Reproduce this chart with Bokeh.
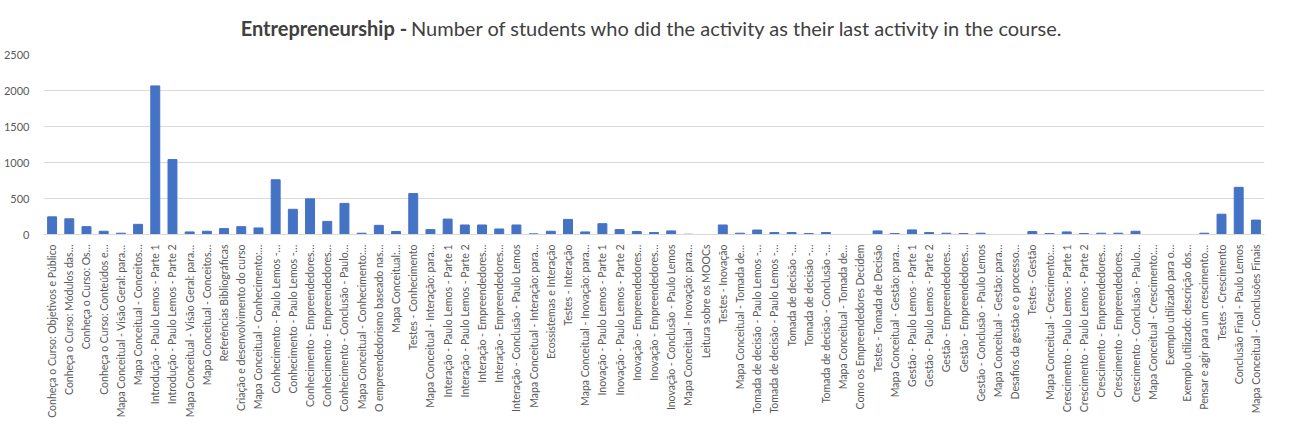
import math
from bokeh.plotting import figure
from bokeh.layouts import column
from bokeh.models import Range1d, FixedTicker, ColumnDataSource
from bokeh.core.properties import value
from bokeh.embed import file_html
from bokeh.resources import INLINE

activities = [
    "Conheça o Curso: Objetivos e Público",
    "Conheça o Curso: Módulos das…",
    "Conheça o Curso: Os…",
    "Conheça o Curso: Conteúdos e…",
    "Mapa Conceitual - Visão Geral: para…",
    "Mapa Conceitual - Conceitos…",
    "Introdução - Paulo Lemos - Parte 1",
    "Introdução - Paulo Lemos - Parte 2",
    "Mapa Conceitual - Visão Geral: para…",
    "Mapa Conceitual - Conceitos…",
    "Referências Bibliográficas",
    "Criação e desenvolvimento do curso",
    "Mapa Conceitual - Conhecimento:…",
    "Conhecimento - Paulo Lemos -…",
    "Conhecimento - Paulo Lemos -…",
    "Conhecimento - Empreendedores…",
    "Conhecimento - Empreendedores…",
    "Conhecimento - Conclusão - Paulo…",
    "Mapa Conceitual - Conhecimento:…",
    "O empreendedorismo baseado nas…",
    "Mapa Conceitual:…",
    "Testes - Conhecimento",
    "Mapa Conceitual - Interação: para…",
    "Interação - Paulo Lemos - Parte 1",
    "Interação - Paulo Lemos - Parte 2",
    "Interação - Empreendedores…",
    "Interação - Empreendedores…",
    "Interação - Conclusão - Paulo Lemos",
    "Mapa Conceitual - Interação: para…",
    "Ecossistemas e Interação",
    "Testes - Interação",
    "Mapa Conceitual - Inovação: para…",
    "Inovação - Paulo Lemos - Parte 1",
    "Inovação - Paulo Lemos - Parte 2",
    "Inovação - Empreendedores…",
    "Inovação - Empreendedores…",
    "Inovação - Conclusão - Paulo Lemos",
    "Mapa Conceitual - Inovação: para…",
    "Leitura sobre os MOOCs",
    "Testes - Inovação",
    "Mapa Conceitual - Tomada de…",
    "Tomada de decisão - Paulo Lemos -…",
    "Tomada de decisão - Paulo Lemos -…",
    "Tomada de decisão -…",
    "Tomada de decisão -…",
    "Tomada de decisão - Conclusão -…",
    "Mapa Conceitual - Tomada de…",
    "Como os Empreendedores Decidem",
    "Testes - Tomada de Decisão",
    "Mapa Conceitual - Gestão: para…",
    "Gestão - Paulo Lemos - Parte 1",
    "Gestão - Paulo Lemos - Parte 2",
    "Gestão - Empreendedores…",
    "Gestão - Empreendedores…",
    "Gestão - Conclusão - Paulo Lemos",
    "Mapa Conceitual - Gestão: para…",
    "Desafios da gestão e o processo…",
    "Testes - Gestão",
    "Mapa Conceitual - Crescimento:…",
    "Crescimento - Paulo Lemos - Parte 1",
    "Crescimento - Paulo Lemos - Parte 2",
    "Crescimento - Empreendedores…",
    "Crescimento - Empreendedores…",
    "Crescimento - Conclusão - Paulo…",
    "Mapa Conceitual - Crescimento:…",
    "Exemplo utilizado para o…",
    "Exemplo utilizado: descrição dos…",
    "Pensar e agir para um crescimento…",
    "Testes - Crescimento",
    "Conclusão Final - Paulo Lemos",
    "Mapa Conceitual - Conclusões Finais",
]

students = [
    245, 218, 109, 45, 18, 141, 2064, 1041, 36, 45,
    82, 109, 91, 760, 350, 495, 182, 432, 18, 127,
    41, 568, 68, 214, 132, 132, 77, 132, 9, 45,
    209, 36, 150, 68, 41, 27, 50, 3, 0, 132,
    18, 62, 27, 27, 14, 27, 0, 0, 50, 14,
    64, 27, 18, 14, 18, 0, 0, 41, 14, 36,
    14, 18, 18, 45, 0, 0, 0, 18, 282, 655,
    200,
]

y_ticks = [0, 500, 1000, 1500, 2000, 2500]

title_bold = "Entrepreneurship -"
title_rest = "Number of students who did the activity as their last activity in the course."

W = 1276
TOP_H = 44

# ---- title strip ----
t = figure(width=W, height=TOP_H, output_backend="svg", toolbar_location=None,
           x_range=Range1d(0, W), y_range=Range1d(0, TOP_H),
           x_axis_type=None, y_axis_type=None,
           min_border=0, min_border_left=0, min_border_right=0,
           min_border_top=0, min_border_bottom=0)
t.grid.visible = False
t.outline_line_color = None
t.background_fill_color = "white"
t.border_fill_color = "white"
t.text(x=[380], y=[TOP_H - 27], text=[title_bold], text_font=value("Lato"),
       text_font_style="bold", text_font_size="20px", text_color="#404040",
       text_align="right", text_baseline="middle")
t.text(x=[384], y=[TOP_H - 27], text=[title_rest], text_font=value("Lato"),
       text_font_size="20px", text_color="#404040",
       text_align="left", text_baseline="middle")

# ---- main chart ----
n = len(activities)
xs = list(range(n))
src = ColumnDataSource(dict(x=xs, top=students))

p = figure(width=W, height=420 - TOP_H, output_backend="svg", toolbar_location=None,
           x_range=Range1d(-0.5, n - 0.5), y_range=Range1d(0, 2500),
           min_border_left=35, min_border_right=12, min_border_top=10,
           min_border_bottom=183)
p.background_fill_color = "white"
p.border_fill_color = "white"
p.outline_line_color = None

p.vbar(x="x", top="top", width=0.52, color="#4472C4", source=src)

p.xaxis.ticker = FixedTicker(ticks=xs)
p.xaxis.major_label_overrides = {i: lab for i, lab in enumerate(activities)}
p.xaxis.major_label_orientation = math.pi / 2
p.xaxis.major_tick_line_color = None
p.xaxis.minor_tick_line_color = None
p.xaxis.axis_line_color = "#d9d9d9"
p.xaxis.major_label_standoff = 4
p.xaxis.major_label_text_font = "Lato"
p.xaxis.major_label_text_font_size = "10.5px"
p.xaxis.major_label_text_color = "#595959"
p.xgrid.grid_line_color = None

p.yaxis.ticker = FixedTicker(ticks=y_ticks)
p.yaxis.axis_line_color = None
p.yaxis.major_tick_line_color = None
p.yaxis.minor_tick_line_color = None
p.yaxis.major_label_standoff = 8
p.yaxis.major_label_text_font = "Lato"
p.yaxis.major_label_text_font_size = "11px"
p.yaxis.major_label_text_color = "#595959"
p.ygrid.grid_line_color = "#d9d9d9"

layout = column(t, p, spacing=0)
open("out.html", "w").write(file_html(layout, INLINE))
